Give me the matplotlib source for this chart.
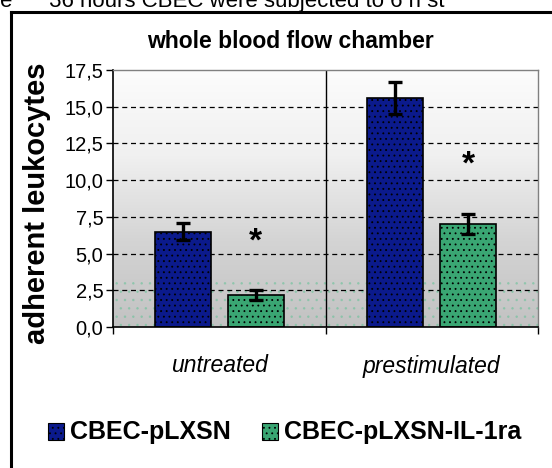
import matplotlib
matplotlib.use("Agg")
import matplotlib.pyplot as plt
import numpy as np
from matplotlib.patches import Rectangle
from matplotlib.lines import Line2D
from matplotlib.colors import LinearSegmentedColormap

categories = ["untreated", "prestimulated"]
series_names = ["CBEC-pLXSN", "CBEC-pLXSN-IL-1ra"]
values_pLXSN = [6.5, 15.6]
errors_pLXSN = [0.6, 1.1]
values_IL1ra = [2.2, 7.0]
errors_IL1ra = [0.35, 0.7]
star_y = [5.8, 11.0]
yticks = [0.0, 2.5, 5.0, 7.5, 10.0, 12.5, 15.0, 17.5]
ytick_labels = ["0,0", "2,5", "5,0", "7,5", "10,0", "12,5", "15,0", "17,5"]

blue = "#0b1a8c"
green = "#3aa673"

plt.rcParams['font.family'] = ['Liberation Sans', 'DejaVu Sans']
plt.rcParams['hatch.linewidth'] = 0.6

W, H = 552, 468
fig = plt.figure(figsize=(W/100, H/100), dpi=100)
fig.patch.set_facecolor("white")

# outer frame lines (left and top)
fig.add_artist(Line2D([11/W, 11/W], [0, 1-12/H], color="black", lw=2.2, transform=fig.transFigure))
fig.add_artist(Line2D([11/W, 1], [1-12/H, 1-12/H], color="black", lw=2.2, transform=fig.transFigure))
fig.text(0.0, 1-1/H, "e      36 hours CBEC were subjected to 6 h st", fontsize=16, va="center", ha="left", color="black")

ax = fig.add_axes([113/W, 1-327/H, (538-113)/W, (327-70)/H])
ax.set_xlim(0, 2)
ax.set_ylim(0, 17.5)

# gradient background
grad = np.linspace(0, 1, 256).reshape(-1, 1)
cmap = LinearSegmentedColormap.from_list("g", ["#c2c2c2", "#d4d4d4", "#f0f0f0", "#fcfcfc"])
ax.imshow(grad, extent=[0, 2, 0, 17.5], origin="lower", aspect="auto", cmap=cmap, zorder=0)
# stipple band near bottom
ax.add_patch(Rectangle((0, 0), 2, 3.4, facecolor="none", edgecolor="#6cc29a", hatch="..", lw=0, zorder=0.5, alpha=0.5))

for yv in yticks[1:-1]:
    ax.axhline(yv, color="black", ls=(0, (4, 3)), lw=0.9, zorder=1)
ax.axvline(1.0, color="black", lw=1.0, zorder=1)

x = np.arange(len(categories)) + 0.5
w = 0.264
off = 0.172
ax.bar(x - off, values_pLXSN, w, color=blue, edgecolor="black", lw=1.2, hatch="...", zorder=2)
ax.bar(x + off, values_IL1ra, w, color=green, edgecolor="black", lw=1.2, hatch="...", zorder=2)
ax.errorbar(x - off, values_pLXSN, yerr=errors_pLXSN, fmt="none", ecolor="black", elinewidth=2.4, capsize=5, capthick=2.4, zorder=3)
ax.errorbar(x + off, values_IL1ra, yerr=errors_IL1ra, fmt="none", ecolor="black", elinewidth=2.4, capsize=5, capthick=2.4, zorder=3)
for xi, sy in zip(x + off, star_y):
    ax.text(xi, sy, "*", ha="center", va="center", fontsize=24, fontweight="bold", zorder=4)

ax.set_yticks(yticks)
ax.set_yticklabels(ytick_labels, fontsize=14.5)
ax.tick_params(axis="y", length=5, width=1, pad=2)
ax.set_xticks([0, 1, 2])
ax.set_xticklabels([])
ax.tick_params(axis="x", length=5, width=1, direction="out")
for xi, c in zip(x, categories):
    fig.text((113 + xi*212.5)/W, 1-366/H, c, ha="center", va="center", fontsize=16.5, style="italic")

for s in ["top", "right"]:
    ax.spines[s].set_color("#808080")
    ax.spines[s].set_linewidth(1.0)
ax.spines["left"].set_linewidth(1.2)
ax.spines["bottom"].set_linewidth(1.2)

fig.text(37/W, 1-203/H, "adherent leukocytes", rotation=90, ha="center", va="center", fontsize=21, fontweight="bold")
fig.text(290/W, 1-41/H, "whole blood flow chamber", ha="center", va="center", fontsize=16.5, fontweight="bold")

# legend
def leg_item(xs, color, label):
    fig.add_artist(Rectangle((xs/W, 1-440/H), 16/W, 17/H, transform=fig.transFigure,
                             facecolor=color, edgecolor="black", lw=0.8, hatch="..."))
    fig.text((xs+22)/W, 1-432/H, label, ha="left", va="center", fontsize=18, fontweight="bold")
leg_item(48, blue, series_names[0])
leg_item(262, green, series_names[1])

fig.savefig("out.png", dpi=100)
